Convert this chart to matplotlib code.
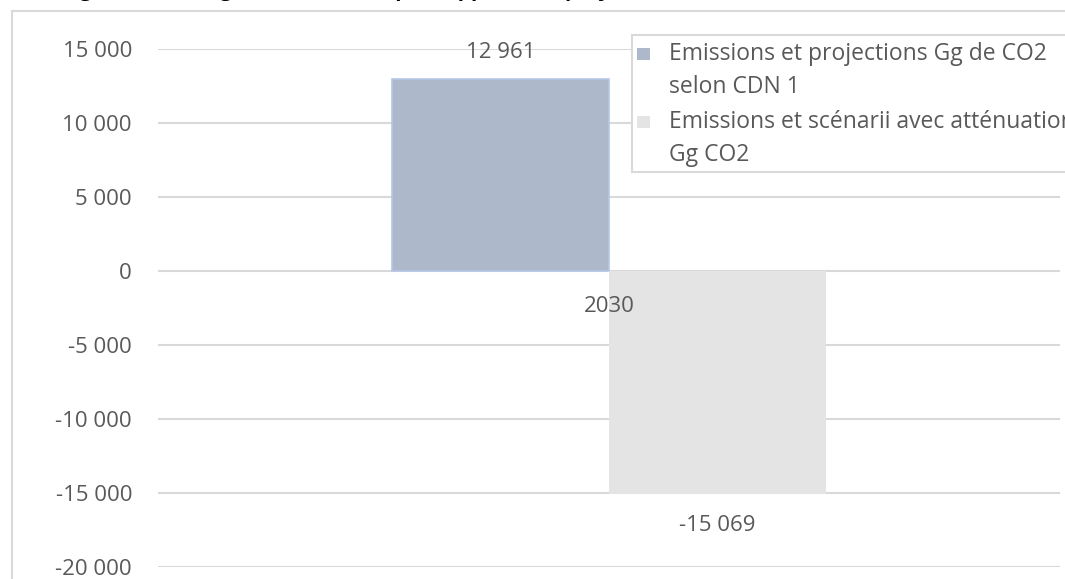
import matplotlib.pyplot as plt
from matplotlib.patches import Rectangle
from matplotlib.ticker import FuncFormatter

# chart data
categories = ['2030']
series_names = [['Emissions et projections Gg de CO2', 'selon CDN 1'],
                ['Emissions et scénarii avec atténuation', 'Gg CO2']]
cdn_values = [12961]
mitigation_values = [-15069]
y_ticks = [-20000, -15000, -10000, -5000, 0, 5000, 10000, 15000]

blue = '#adb9ca'
grey = '#e4e4e4'
text_col = '#595959'
grid_col = '#d9d9d9'

plt.rcParams['font.family'] = ['Open Sans', 'DejaVu Sans']

W, H = 1065, 579
fig = plt.figure(figsize=(W / 100, H / 100), dpi=100)
PX = 72 / 100  # points per pixel


def fmt(v):
    return f'{int(v):,}'.replace(',', ' ')


# outer chart frame (runs off the right and bottom edges)
fig.patches.append(Rectangle((12 / W, -0.1), 1.2, (H - 11) / H + 0.1,
                             transform=fig.transFigure, fill=False,
                             edgecolor=grid_col, lw=1.5))

# title, sitting above the visible area
fig.text(62 / W, 1 - 0.7 / H, 'Figure 4 : Ecart global de la CDN par rapport aux projections',
         fontsize=15, fontweight='bold', color='black', va='bottom')

ax = fig.add_axes([158 / W, 12 / H, 902 / W, (567 - 49) / H])

w = 217 / 902
x = range(len(categories))
ax.bar([i - w / 2 for i in x], cdn_values, w, color=blue, edgecolor='#b4c7e7', lw=1.2, zorder=3)
ax.bar([i + w / 2 for i in x], mitigation_values, w, color=grey, lw=0, zorder=3)

ax.set_xlim(-0.5, 0.5)
ax.set_ylim(-20000, 15000)
ax.set_yticks(y_ticks)
ax.yaxis.set_major_formatter(FuncFormatter(lambda v, p: fmt(v)))
ax.tick_params(axis='y', length=0, pad=26 * PX, labelsize=16, labelcolor=text_col)
ax.set_xticks([])
ax.grid(axis='y', color=grid_col, lw=1.5, zorder=0)
for s in ax.spines.values():
    s.set_visible(False)

# value labels
for i, v in enumerate(cdn_values):
    ax.annotate(fmt(v), (i - w / 2, v), xytext=(0, 27 * PX), textcoords='offset points',
                ha='center', va='center', fontsize=16, color=text_col)
for i, v in enumerate(mitigation_values):
    ax.annotate(fmt(v), (i + w / 2, v), xytext=(0, -31 * PX), textcoords='offset points',
                ha='center', va='center', fontsize=16, color=text_col)

# category label just under the zero line
for i, c in enumerate(categories):
    ax.annotate(c, (i, 0), xytext=(0, -35 * PX), textcoords='offset points',
                ha='center', va='center', fontsize=16, color=text_col, zorder=5)

# legend box
fig.patches.append(Rectangle((632 / W, 1 - 172 / H), 0.6, 137 / H,
                             transform=fig.transFigure, facecolor='white',
                             edgecolor=grid_col, lw=1.5, zorder=10))
for lines, col, yc in zip(series_names, [blue, grey], [54, 122]):
    fig.patches.append(Rectangle((637 / W, 1 - (yc + 6) / H), 13 / W, 12 / H,
                                 transform=fig.transFigure, facecolor=col,
                                 edgecolor='none', zorder=11))
    for k, line in enumerate(lines):
        fig.text(669 / W, 1 - (yc + 33 * k) / H, line, fontsize=16.5, color=text_col,
                 va='center', ha='left', zorder=12)

fig.savefig('out.png', dpi=100)
